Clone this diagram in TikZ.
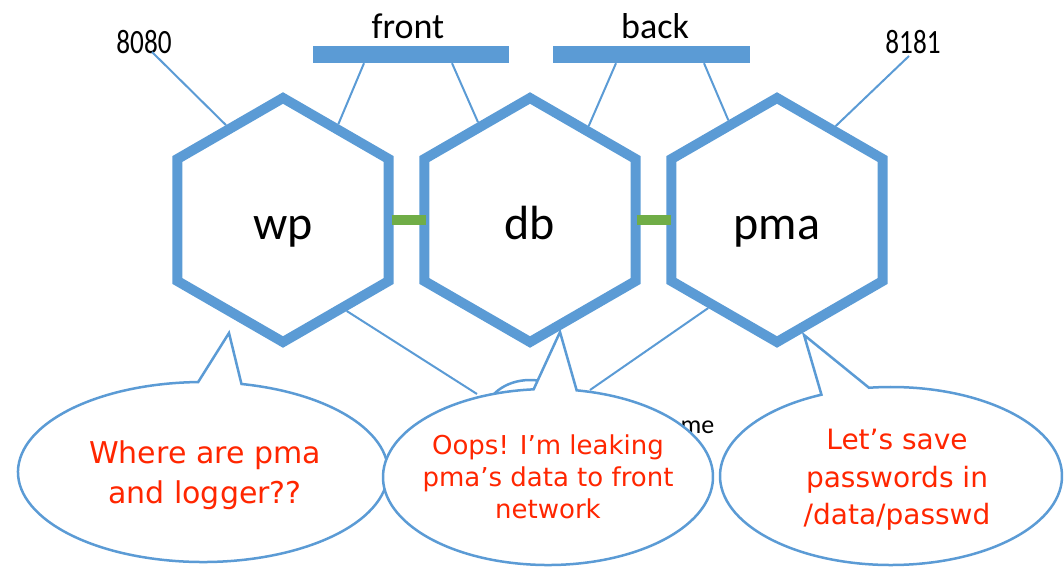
\documentclass[tikz,border=0pt]{standalone}
\usepackage{fontspec}
\setmainfont{Carlito}
\newfontfamily\redfont{DejaVu Sans}
\usepackage{graphicx}
\usetikzlibrary{shapes.geometric,calc}
\definecolor{hexblue}{RGB}{91,155,213}
\definecolor{linkgreen}{RGB}{112,173,71}
\definecolor{redtxt}{RGB}{255,38,0}
\begin{document}
\begin{tikzpicture}[x=1pt,y=-1pt,
  hexbox/.style={regular polygon, regular polygon sides=6, shape border rotate=30, minimum size=244pt, inner sep=0pt, draw=hexblue, line width=10pt},
  hexlabel/.style={anchor=base, font=\fontsize{48}{48}\selectfont},
  netbar/.style={fill=hexblue, minimum height=17pt, inner sep=0pt},
  netlabel/.style={anchor=base, font=\fontsize{36}{36}\selectfont},
  portlabel/.style={anchor=base, font=\fontsize{34}{34}\selectfont},
  wire/.style={draw=hexblue, line width=2pt},
  link/.style={draw=linkgreen, line width=10pt},
  callout/.style={draw=hexblue, line width=2.5pt, fill=white},
  saytext/.style={text=redtxt, align=center},
]
\useasboundingbox (0,0) rectangle (1064,567);

% network bars and labels
\node[netbar, minimum width=196pt] (frontbar) at (411,54.5) {};
\node[netbar, minimum width=197pt] (backbar) at (651.5,54.5) {};
\node[netlabel] (frontl) at (408,39) {front};
\node[netlabel] (backl) at (655,39) {back};
\node[portlabel] (p8080) at (144,54) {\scalebox{0.8}[1]{8080}};
\node[portlabel] (p8181) at (913,54) {\scalebox{0.8}[1]{8181}};

% containers
\node[hexbox] (wp) at (283,220) {};
\node[hexbox] (db) at (530,220) {};
\node[hexbox] (pma) at (777,220) {};
\node[hexlabel] (wpl) at (283,239) {wp};
\node[hexlabel] (dbl) at (530,239) {db};
\node[hexlabel] (pmal) at (777,239) {pma};

% wires
\draw[wire] ($(frontbar.south)+(-47,0)$) -- (wp.60);
\draw[wire] ($(frontbar.south)+(41,0)$) -- (db.118);
\draw[wire] ($(backbar.south)+(-35.5,0)$) -- (db.58);
\draw[wire] ($(backbar.south)+(52.5,0)$) -- (pma.116);
\draw[wire] ($(p8080.base)+(8,-2)$) -- (wp.121);
\draw[wire] ($(p8181.base)+(-4,2)$) -- (pma.58);

% links
\draw[link] ($(wp.east)+(-2,0)$) -- ($(db.west)+(7,0)$);
\draw[link] ($(db.east)+(-4,0)$) -- ($(pma.west)+(5,0)$);

% hidden callout remains
\node[anchor=base west, font=\fontsize{26}{26}\selectfont] (metext) at (677,433) {me};
\draw[callout] (530,415) ellipse [x radius=45, y radius=35];

\coordinate (leakin) at (477,394);
\coordinate (pmain) at (590,390);
\draw[wire] (wp.-55) -- (leakin);
\draw[wire] (pma.232) -- (pmain);

% callouts
\path[callout] (203,472) ++(-78:185 and 90) arc[start angle=-78, end angle=268.5, x radius=185, y radius=90] -- (229,333) -- cycle;
\path[callout] (891,476) ++(-97.4:171 and 89) arc[start angle=-97.4, end angle=246, x radius=171, y radius=89] -- (804,335) -- cycle;
\path[callout] (548,477) ++(-80:165 and 88) arc[start angle=-80, end angle=265, x radius=165, y radius=88] -- (560,332) -- cycle;

\node[saytext, font=\redfont\fontsize{30}{40}\selectfont] (say1) at (205,475) {Where are pma\\and logger??};
\node[saytext, font=\redfont\fontsize{26}{32}\selectfont] (say2) at (548,477) {Oops! I’m leaking\\pma’s data to front\\network};
\node[saytext, font=\redfont\fontsize{28}{37.5}\selectfont] (say3) at (897,480) {Let’s save\\passwords in\\/data/passwd};
\end{tikzpicture}
\end{document}
